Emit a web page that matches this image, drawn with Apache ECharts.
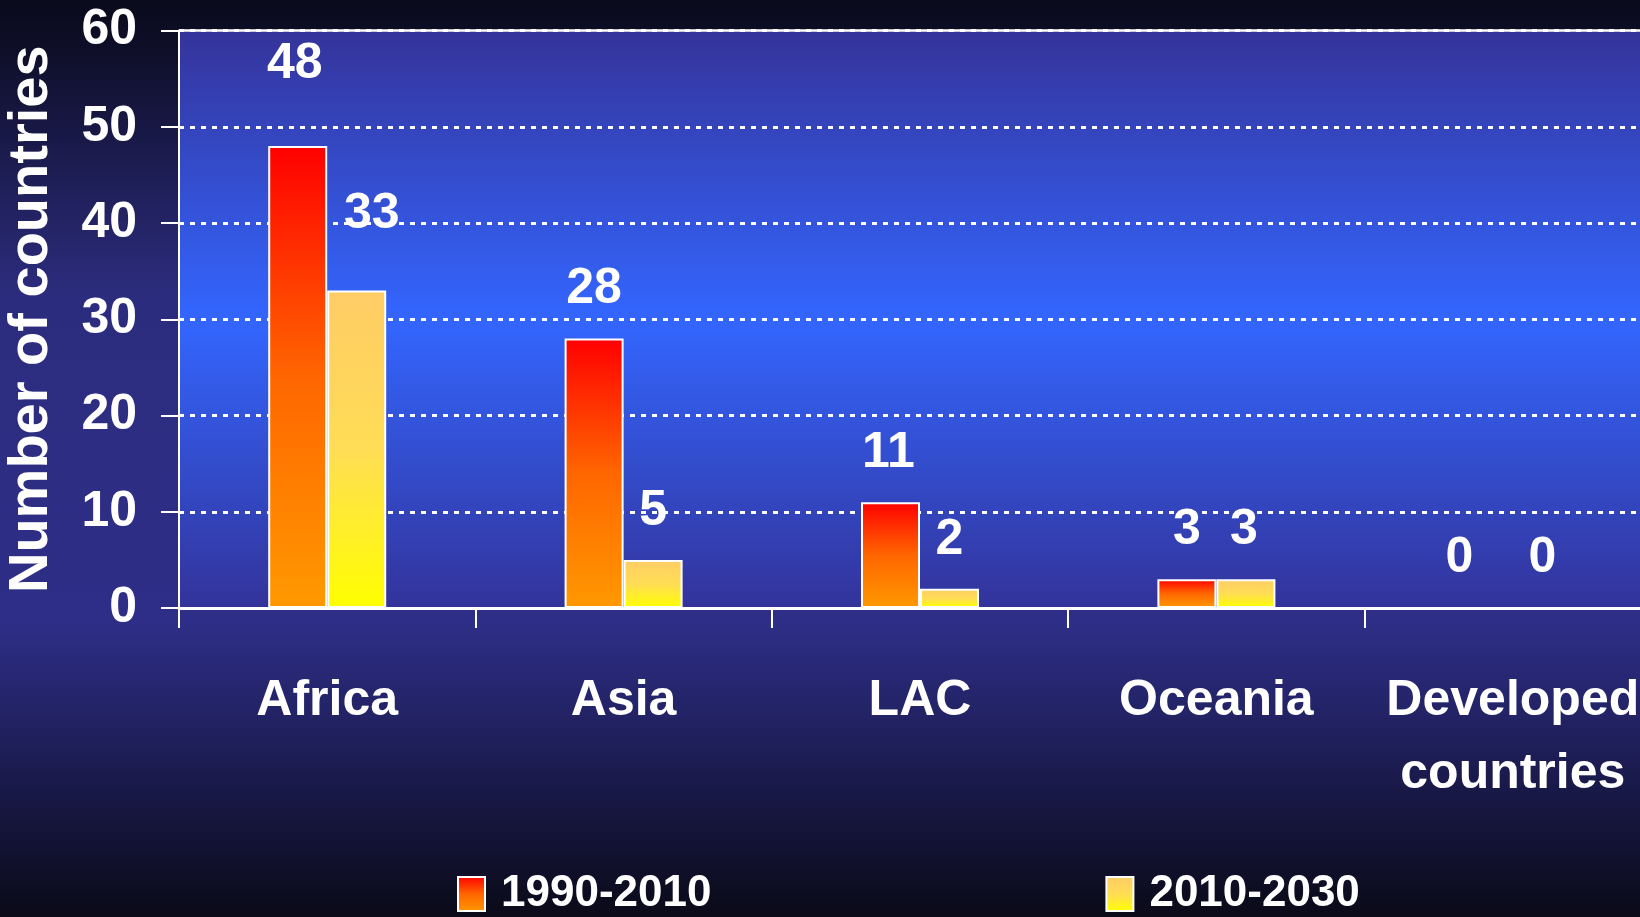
<!DOCTYPE html>
<html>
<head>
<meta charset="utf-8">
<script src="https://cdn.jsdelivr.net/npm/echarts@6/dist/echarts.min.js"></script>
<style>
  html, body { margin: 0; padding: 0; background: #0b0b1e; }
  #chart { width: 1640px; height: 917px; }
</style>
</head>
<body>
<div id="chart"></div>
<script>
// Data
const regions = ['Africa', 'Asia', 'LAC', 'Oceania', 'Developed\ncountries'];
const seriesNames = ['1990-2010', '2010-2030'];
const values1990 = [48, 28, 11, 3, 0];
const values2010 = [33, 5, 2, 3, 0];
const yTicks = [0, 10, 20, 30, 40, 50, 60];

// Label nudges (px), kept apart from the values
const labelShift1990 = [[-3, -33], [0, 0], [-2, 0], [0, 0], [-24, 0]];
const labelShift2010 = [[15, -27], [0, 0], [0, 0], [-2, 0], [0, 0]];

const FONT = '"Liberation Sans", Arial, sans-serif';

const chart = echarts.init(document.getElementById('chart'));

const vGrad = (stops) => new echarts.graphic.LinearGradient(0, 0, 0, 1,
  stops.map(([offset, color]) => ({ offset, color })));

const redFill = vGrad([[0, '#ff0000'], [0.5, '#ff6600'], [1, '#ff9900']]);
const yellowFill = vGrad([[0, '#ffcc66'], [0.5, '#ffdd55'], [1, '#ffff00']]);

const withLabels = (values, shifts) => values.map((v, i) => ({
  value: v,
  label: { offset: shifts[i] }
}));

const valueLabel = {
  show: true,
  position: 'top',
  distance: 24,
  color: '#ffffff',
  fontFamily: FONT,
  fontWeight: 'bold',
  fontSize: 50
};

const option = {
  backgroundColor: vGrad([
    [0, '#0a0a1c'], [0.05, '#0e0e28'], [0.32, '#2c2c7e'], [0.68, '#2e2e88'],
    [0.85, '#1a1a4c'], [1, '#0a0a18']
  ]),
  animation: false,
  grid: {
    left: 179,
    top: 30.5,
    bottom: 309,
    right: -21,
    outerBoundsMode: 'none',
    show: true,
    borderWidth: 0,
    backgroundColor: vGrad([
      [0, '#35339a'], [0.5, '#3366ff'], [1, '#33339a']
    ])
  },
  legend: {
    data: seriesNames,
    icon: 'rect',
    left: 457,
    top: 872,
    padding: 0,
    itemWidth: 27,
    itemHeight: 34,
    itemGap: 394,
    textStyle: {
      color: '#ffffff',
      fontFamily: FONT,
      fontWeight: 'bold',
      fontSize: 44,
      padding: [0, 0, 0, 11]
    }
  },
  xAxis: {
    type: 'category',
    data: regions,
    axisLine: { lineStyle: { color: '#ffffff', width: 3 } },
    axisTick: { show: true, length: 20, lineStyle: { color: '#ffffff', width: 2 } },
    axisLabel: {
      interval: 0,
      margin: 57,
      color: '#ffffff',
      fontFamily: FONT,
      fontWeight: 'bold',
      fontSize: 50,
      lineHeight: 73
    }
  },
  yAxis: {
    type: 'value',
    min: yTicks[0],
    max: yTicks[yTicks.length - 1],
    interval: 10,
    name: 'Number of countries',
    nameLocation: 'middle',
    nameGap: 119,
    nameTextStyle: {
      color: '#ffffff',
      fontFamily: FONT,
      fontWeight: 'bold',
      fontSize: 56
    },
    axisLine: { show: true, lineStyle: { color: '#ffffff', width: 2 } },
    axisTick: { show: true, length: 18, lineStyle: { color: '#ffffff', width: 2 } },
    axisLabel: {
      margin: 42,
      color: '#ffffff',
      fontFamily: FONT,
      fontWeight: 'bold',
      fontSize: 50
    },
    splitLine: {
      lineStyle: { color: '#ffffff', width: 3, type: [5, 6] }
    }
  },
  series: [
    {
      name: seriesNames[0],
      type: 'bar',
      barWidth: 59,
      barGap: '0%',
      data: withLabels(values1990, labelShift1990),
      itemStyle: { color: redFill, borderColor: '#ffffff', borderWidth: 2 },
      label: valueLabel,
      markLine: {
        silent: true,
        symbol: 'none',
        label: { show: false },
        lineStyle: { color: '#ffffff', width: 2.5, type: 'solid' },
        data: [{ yAxis: yTicks[yTicks.length - 1] }]
      }
    },
    {
      name: seriesNames[1],
      type: 'bar',
      barWidth: 59,
      barGap: '0%',
      data: withLabels(values2010, labelShift2010),
      itemStyle: { color: yellowFill, borderColor: '#ffffff', borderWidth: 2 },
      label: valueLabel
    }
  ]
};

chart.setOption(option);
</script>
</body>
</html>
